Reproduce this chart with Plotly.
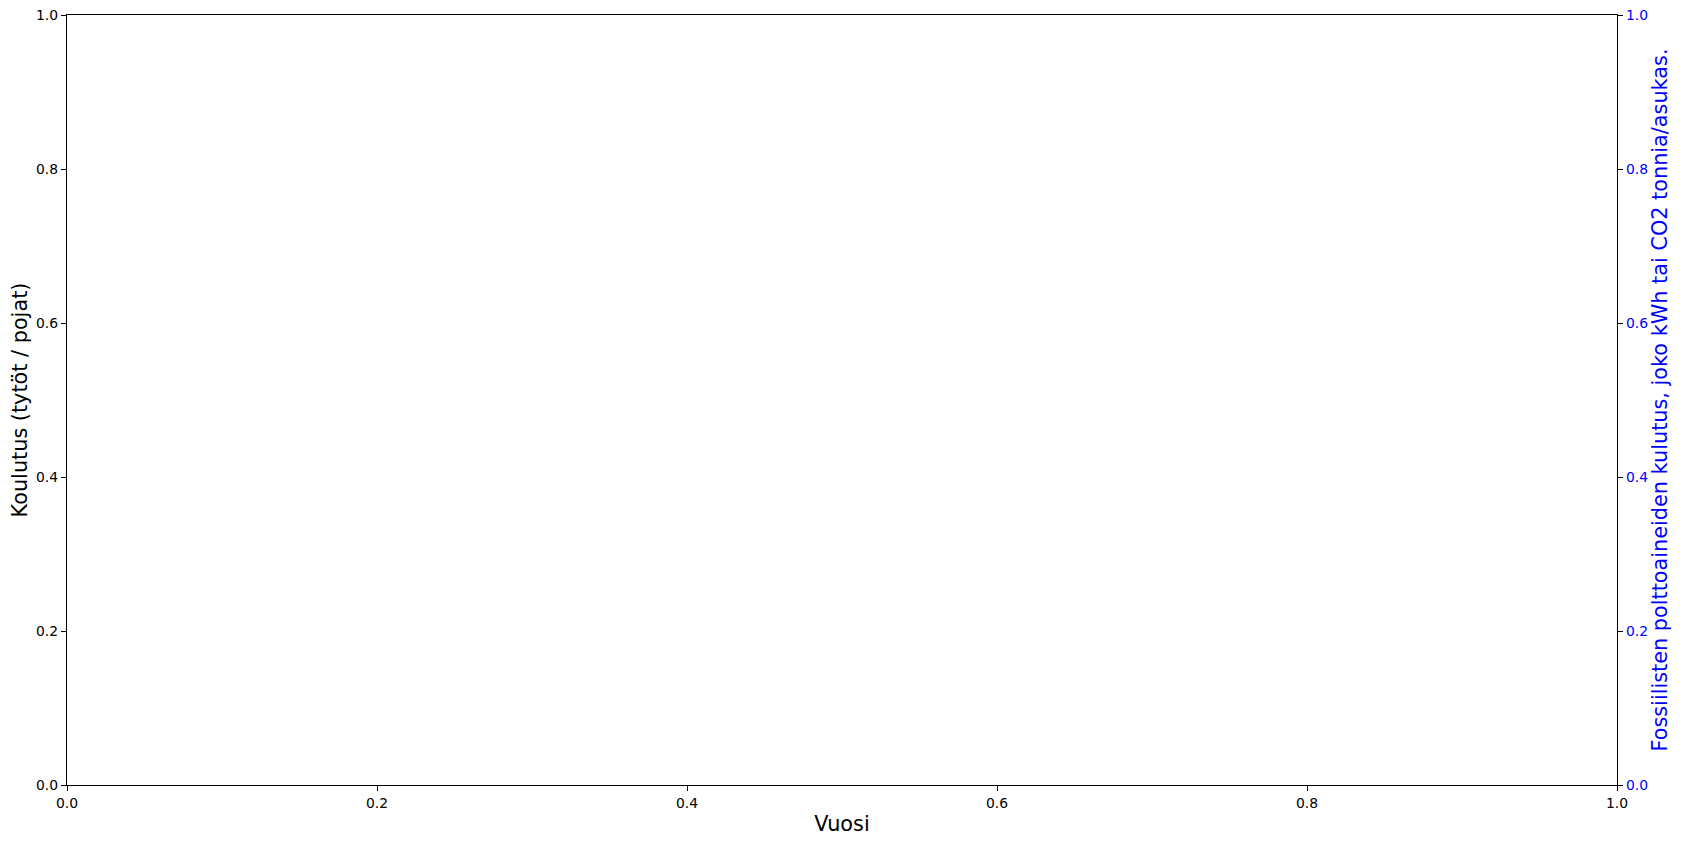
import plotly.graph_objs as go

# no data in the figure: empty series on both axes
vuodet = []
koulutus = []
fossiiliset = []

ticks = [0.0, 0.2, 0.4, 0.6, 0.8, 1.0]
tick_txt = ['0.0', '0.2', '0.4', '0.6', '0.8', '1.0']

fnt = 'DejaVu Sans'

fig = go.Figure()
fig.add_trace(go.Scatter(x=vuodet, y=koulutus, mode='lines', showlegend=False))
fig.add_trace(go.Scatter(x=vuodet, y=fossiiliset, mode='lines', yaxis='y2', showlegend=False))

akseli = dict(range=[0, 1], tickvals=ticks, ticktext=tick_txt, showgrid=False, zeroline=False,
              showline=True, linecolor='black', linewidth=1.2, ticks='outside', ticklen=5,
              tickwidth=1.2, tickcolor='black', automargin=False, ticklabeloverflow='allow')

# the page body has an 8px margin, so the figure is a bit smaller than the window
fig.update_layout(
    width=1668, height=828,
    plot_bgcolor='white', paper_bgcolor='white',
    margin=dict(l=59, r=59, t=7, b=51),
    font=dict(family=fnt, size=13.9, color='black'),
    xaxis=dict(akseli, mirror=True,
               title=dict(text='Vuosi', font=dict(size=20.8), standoff=6)),
    yaxis=dict(akseli, title=dict(text='Koulutus (tytöt / pojat)', font=dict(size=20.8), standoff=5)),
    yaxis2=dict(akseli, overlaying='y', side='right', tickfont=dict(color='blue'),
                title=dict(text='Fossiilisten polttoaineiden kulutus, joko kWh tai CO2 tonnia/asukas.',
                           font=dict(size=20.8, color='blue'), standoff=4)),
)

fig.write_html('out.html')
